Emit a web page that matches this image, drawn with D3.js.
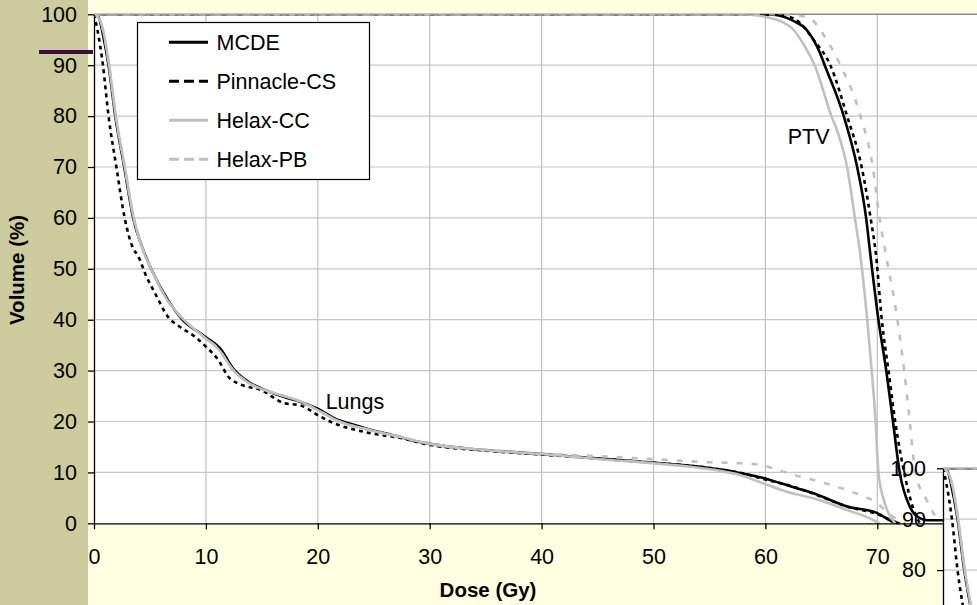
<!DOCTYPE html>
<html>
<head>
<meta charset="utf-8">
<script src="https://cdn.jsdelivr.net/npm/d3@7"></script>
<style>
  html, body { margin: 0; padding: 0; background: #FFFFE1; overflow: hidden; }
  svg { display: block; font-family: "Liberation Sans", Arial, sans-serif; }
</style>
</head>
<body>
<svg id="chart" width="977" height="605"></svg>
<script>
// ---------- DATA ----------
const seriesNames = ["MCDE", "Pinnacle-CS", "Helax-CC", "Helax-PB"];
const xTicks = [0, 10, 20, 30, 40, 50, 60, 70, 80];
const xTickLabels = [0, 10, 20, 30, 40, 50, 60, 70];
const yTicks = [0, 10, 20, 30, 40, 50, 60, 70, 80, 90, 100];
const copyYTickLabels = [80, 90, 100];
const structureLabels = [{ name: "Lungs", dose: 20.7, vol: 22.5 }, { name: "PTV", dose: 62.0, vol: 74.5 }];

// Lungs DVH  [dose Gy, volume %]
const mcdeLungs = [[0,100],[0.4,99.5],[0.8,96],[1.3,90],[1.9,80],[2.7,70],[3.5,60],[4.4,53.7],[5.1,50],[6.6,43.9],[7.9,40],[9.9,36.7],[11.4,34],[12.4,30.5],[13.8,27.8],[15.5,26],[17,24.8],[18.4,23.9],[20.2,22.3],[21.5,20.6],[23,19.5],[24.7,18.4],[27.3,17],[28.2,16.4],[30,15.6],[34.8,14.4],[40,13.6],[45.8,12.6],[50,11.9],[53.3,11.3],[56.2,10.5],[57.7,9.9],[60,8.8],[61.3,7.9],[64.3,5.9],[67.3,3.3],[70,2.0],[71.4,0.3],[72,0]];
const pinnLungs = [[0,100],[0.3,97],[0.8,90],[1.3,80],[2.0,70],[2.74,60],[3.5,54],[3.9,52.7],[4.7,48.4],[5.5,45],[6.6,40.6],[7.66,38.6],[9.0,36.7],[10.0,34.7],[11.1,32.1],[12,28.8],[13.2,27.2],[14.9,26.2],[17,23.6],[18.4,23.2],[20.2,21],[21.1,20],[24.7,17.7],[27.3,16.8],[30,15.4],[34.8,14.3],[40,13.5],[45.8,12.6],[50,11.9],[53.3,11.3],[56.2,10.5],[58,9.8],[60,8.6],[62,7.5],[64.3,5.8],[67.3,3.3],[70,1.8],[71.6,0.3],[72,0]];
const hccLungs = [[0,100],[0.5,99],[0.9,96],[1.35,90],[1.95,80],[2.75,70],[3.55,60],[4.4,53.5],[5.1,50],[6.5,44],[7.8,40.5],[9.6,37],[11.2,34],[12.4,30.2],[13.8,27.6],[15.5,26],[17,25],[18.4,24],[20.2,22],[21.5,20.4],[24.7,18.3],[27.3,17],[30,15.6],[34.8,14.4],[40,13.6],[45.8,12.5],[50,11.8],[53.3,11.1],[56.2,10.2],[57.7,9.5],[60,7.7],[61.9,6.2],[64.3,4.9],[67.3,2.6],[69.5,0.8],[70.2,0]];
const hpbLungs = [[0,100],[0.5,99],[0.9,96],[1.35,90],[1.95,80],[2.75,70],[3.55,60],[4.4,53.6],[5.1,50],[6.5,44],[7.8,40.5],[9.6,37],[11.2,34],[12.4,30.2],[13.8,27.6],[15.5,26],[17,25],[18.4,24],[20.2,22],[21.5,20.4],[24.7,18.3],[27.3,17],[30,15.7],[34.8,14.5],[40,13.7],[45,13.2],[50,12.6],[55,12],[57.7,11.8],[59.5,11.5],[61,10.6],[62.2,9.7],[64.3,8.5],[67.3,6.5],[70,3.9],[71.4,1.3],[72.5,0]];

// PTV DVH  [dose Gy, volume %]
const mcdePTV = [[0,100],[59,100],[60.7,99.9],[62.5,98.7],[63.7,96.9],[64.9,92.3],[65.3,90],[67,80],[68.2,70],[69,60],[69.4,52.4],[70.1,40],[70.8,30],[71.4,20],[72,10],[72.9,3.3],[73.8,1],[74.5,0.6],[77,0.6]];
const pinnPTV = [[0,100],[60,100],[61.5,99.8],[63,98.5],[64.3,95],[65.8,90],[67.3,80],[68.6,70],[69.4,60],[69.9,52.4],[70.4,40],[71,30],[71.6,20],[72.4,10],[73.2,3],[73.8,0]];
const hccPTV = [[0,100],[58,100],[59.5,99.7],[62.2,97.6],[63.7,93],[64.4,90],[65.9,80],[66.5,76.6],[67.3,70],[68,60],[68.5,52.4],[69.1,40],[69.5,30],[69.85,20],[70.1,10],[70.5,5.2],[71,2],[71.6,0]];
const hpbPTV = [[0,100],[61,100],[63.7,99.5],[65.5,94.9],[66.7,90],[68.5,80],[69.6,70],[70.2,60],[70.8,52.4],[71.8,40],[72.4,30],[72.9,20],[73.4,10],[74.4,4.6],[75.2,1.3],[75.6,0]];

// ---------- STYLES ----------
const styles = {
  "MCDE":        { color: "#000000", dash: null,  legendDash: null,  width: 2.6 },
  "Pinnacle-CS": { color: "#000000", dash: "4,4", legendDash: "10,5", width: 2.6 },
  "Helax-CC":    { color: "#C0C0C0", dash: null,  legendDash: null,  width: 2.6 },
  "Helax-PB":    { color: "#C0C0C0", dash: "6,9", legendDash: "10,5", width: 2.6 }
};
// series drawn in order, later ones on top
const curves = [
  { name: "MCDE", data: [mcdeLungs, mcdePTV] },
  { name: "Pinnacle-CS", data: [pinnLungs, pinnPTV] },
  { name: "Helax-CC", data: [hccLungs, hccPTV] },
  { name: "Helax-PB", data: [hpbLungs, hpbPTV] }
];

const FONT = 21.5;
const svg = d3.select("#chart");

const x = d3.scaleLinear().domain([0, 80]).range([94, 94 + 80 * 11.19]);
const y = d3.scaleLinear().domain([0, 100]).range([523.3, 14.3]);

// backgrounds
svg.append("rect").attr("x", 0).attr("y", 0).attr("width", 977).attr("height", 605).attr("fill", "#FFFFE1");
svg.append("rect").attr("x", 0).attr("y", 0).attr("width", 88).attr("height", 605).attr("fill", "#CBCB9D");

let clipId = 0;
function drawChart(g, full) {
  const x0 = x(0), x1 = x(80), y0 = y(0), y1 = y(100);
  g.append("rect").attr("x", x0).attr("y", y1).attr("width", x1 - x0).attr("height", y0 - y1).attr("fill", "#fff");

  const cid = "plotclip" + (clipId++);
  g.append("clipPath").attr("id", cid).append("rect")
    .attr("x", x0).attr("y", y1).attr("width", x1 - x0).attr("height", y0 - y1 + 3);

  // gridlines
  g.append("g").selectAll("line").data(yTicks.filter(d => d > 0 && d < 100)).join("line")
    .attr("x1", x0).attr("x2", x1).attr("y1", d => y(d)).attr("y2", d => y(d))
    .attr("stroke", "#C6C6C6").attr("stroke-width", 1.2);
  g.append("g").selectAll("line").data(xTicks.filter(d => d > 0)).join("line")
    .attr("x1", d => x(d)).attr("x2", d => x(d)).attr("y1", y1).attr("y2", y0)
    .attr("stroke", "#C0C0C0").attr("stroke-width", 1.2);
  g.append("line").attr("x1", x0).attr("x2", x1).attr("y1", y1).attr("y2", y1)
    .attr("stroke", "#8A8A8A").attr("stroke-width", 1.5);

  // curves
  const line = d3.line().x(d => x(d[0])).y(d => y(d[1])).curve(d3.curveMonotoneX);
  const cg = g.append("g").attr("clip-path", `url(#${cid})`);
  curves.forEach(c => {
    const s = styles[c.name];
    c.data.forEach(arr => {
      cg.append("path").attr("d", line(arr)).attr("fill", "none")
        .attr("stroke", s.color).attr("stroke-width", s.width)
        .attr("stroke-dasharray", s.dash).attr("stroke-linejoin", "round");
    });
  });

  // axes
  const yAxis = d3.axisLeft(y).tickValues(yTicks).tickSize(6).tickSizeOuter(0).tickPadding(11)
    .tickFormat(d => (full || copyYTickLabels.includes(d)) ? d : "");
  const xAxis = d3.axisBottom(x).tickValues(xTicks).tickSize(6).tickSizeOuter(0).tickPadding(19)
    .tickFormat(d => (full && xTickLabels.includes(d)) ? d : "");
  const ya = g.append("g").attr("transform", `translate(${x0},0)`).call(yAxis);
  const xa = g.append("g").attr("transform", `translate(0,${y0})`).call(xAxis);
  [ya, xa].forEach(a => {
    a.select(".domain").attr("stroke", "#000").attr("stroke-width", 1.3);
    a.selectAll(".tick line").attr("stroke", "#000").attr("stroke-width", 1.3);
    a.selectAll("text").attr("font-size", FONT).attr("fill", "#000")
      .attr("font-family", "'Liberation Sans', Arial, sans-serif");
    a.selectAll(".tick").filter(function () { return d3.select(this).select("text").text() === ""; })
      .select("text").remove();
  });

  if (!full) return;

  // structure labels
  structureLabels.forEach(l => {
    g.append("text").attr("x", x(l.dose)).attr("y", y(l.vol)).attr("font-size", FONT)
      .attr("fill", "#000").text(l.name);
  });

  // legend
  const lg = g.append("g");
  lg.append("rect").attr("x", 137.5).attr("y", 22.5).attr("width", 232).attr("height", 157)
    .attr("fill", "#fff").attr("stroke", "#000").attr("stroke-width", 1.2);
  seriesNames.forEach((n, i) => {
    const s = styles[n];
    const yy = 42.3 + i * 39;
    lg.append("line").attr("x1", 169).attr("x2", 208).attr("y1", yy).attr("y2", yy)
      .attr("stroke", s.color).attr("stroke-width", 3).attr("stroke-dasharray", s.legendDash);
    lg.append("text").attr("x", 216.5).attr("y", yy + 7.7).attr("font-size", FONT).attr("fill", "#000").text(n);
  });

  // axis titles
  g.append("text").attr("x", 488).attr("y", 597).attr("text-anchor", "middle")
    .attr("font-size", 20.5).attr("font-weight", "bold").text("Dose (Gy)");
  g.append("text").attr("transform", "translate(24,270) rotate(-90)").attr("text-anchor", "middle")
    .attr("font-size", 20.5).attr("font-weight", "bold").text("Volume (%)");
}

// top strip
svg.append("rect").attr("x", 88).attr("y", 0).attr("width", 889).attr("height", 14).attr("fill", "#FFFFE1");

const main = svg.append("g");
drawChart(main, true);

// decorative mark on the left band
svg.append("line").attr("x1", 39).attr("x2", 93).attr("y1", 52).attr("y2", 52)
  .attr("stroke", "#3E0E40").attr("stroke-width", 4);

// overlapping copy of the chart in the bottom-right corner
const copy = svg.append("g").attr("transform", "translate(849,454)");
drawChart(copy, false);
</script>
</body>
</html>
